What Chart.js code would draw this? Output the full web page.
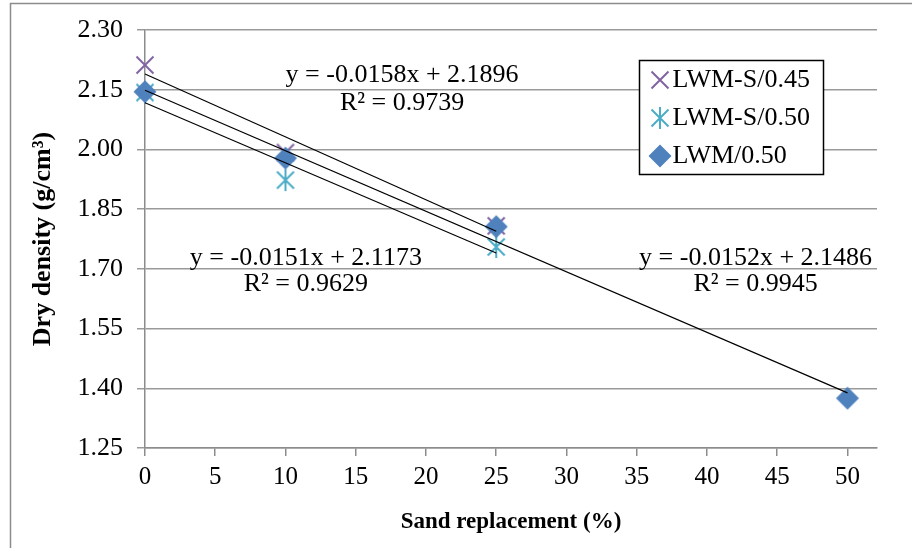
<!DOCTYPE html>
<html>
<head>
<meta charset="utf-8">
<script src="https://cdn.jsdelivr.net/npm/chart.js@4.4.1/dist/chart.umd.min.js"></script>
<style>
  html, body { margin: 0; padding: 0; background: #fff; }
  #wrap { width: 912px; height: 548px; position: relative; }
</style>
</head>
<body>
<div id="wrap"><canvas id="chart" width="912" height="548"></canvas></div>
<script>
// Sand replacement levels (%) for each mix
const sandLevelsS = [0, 10, 25];
const sandLevelsLWM = [0, 10, 25, 50];

// Dry density (g/cm3)
const densityLWMS045 = [2.212, 1.992, 1.808];
const densityLWMS050 = [2.143, 1.923, 1.755];
const densityLWM050 = [2.145, 1.978, 1.806, 1.375];

const seriesNames = ['LWM-S/0.45', 'LWM-S/0.50', 'LWM/0.50'];

// Linear trendlines: y = slope * x + intercept
const trendSlopes = [-0.0158, -0.0151, -0.0152];
const trendIntercepts = [2.1896, 2.1173, 2.1486];
const trendR2 = [0.9739, 0.9629, 0.9945];
const trendEndX = [25, 25, 50];

// Axis ticks
const xTicks = [0, 5, 10, 15, 20, 25, 30, 35, 40, 45, 50];
const yTicks = [1.25, 1.40, 1.55, 1.70, 1.85, 2.00, 2.15, 2.30];

const colors = ['#8064A2', '#4BACC6', '#4F81BD'];
const serif = '"Liberation Serif", "Times New Roman", serif';

function pts(xs, ys) { return xs.map((x, i) => ({ x: x, y: ys[i] })); }

function trendData(i) {
  return [0, trendEndX[i]].map(x => ({ x: x, y: trendSlopes[i] * x + trendIntercepts[i] }));
}

function fmtCoef(v) {
  return (v < 0 ? '-' : '') + Math.abs(v).toFixed(4);
}

// Marker glyphs drawn once onto small canvases
function markerCanvas(size, draw) {
  const c = document.createElement('canvas');
  c.width = size; c.height = size;
  const g = c.getContext('2d');
  draw(g, size / 2);
  return c;
}
const crossMarker = markerCanvas(22, (g, m) => {
  g.strokeStyle = colors[0]; g.lineWidth = 2;
  const r = 8.5;
  g.beginPath();
  g.moveTo(m - r, m - r); g.lineTo(m + r, m + r);
  g.moveTo(m + r, m - r); g.lineTo(m - r, m + r);
  g.stroke();
});
const starMarker = markerCanvas(24, (g, m) => {
  g.strokeStyle = colors[1]; g.lineWidth = 2;
  const r = 8.5;
  g.beginPath();
  g.moveTo(m - r, m - r); g.lineTo(m + r, m + r);
  g.moveTo(m + r, m - r); g.lineTo(m - r, m + r);
  g.moveTo(m, m - 11); g.lineTo(m, m + 11);
  g.stroke();
});
const diamondMarker = markerCanvas(26, (g, m) => {
  const r = 11.5;
  g.fillStyle = colors[2];
  g.beginPath();
  g.moveTo(m, m - r); g.lineTo(m + r, m); g.lineTo(m, m + r); g.lineTo(m - r, m);
  g.closePath();
  g.fill();
});
const markers = [crossMarker, starMarker, diamondMarker];

// Equation labels, anchored in data units
const eqAnchors = [
  { x: 18.3, y: 2.187, gap: 28 },
  { x: 11.45, y: 1.727, gap: 26 },
  { x: 43.46, y: 1.727, gap: 26 }
];

const datasets = [0, 1, 2].map(i => ({
  label: seriesNames[i],
  data: i === 0 ? pts(sandLevelsS, densityLWMS045)
      : i === 1 ? pts(sandLevelsS, densityLWMS050)
      : pts(sandLevelsLWM, densityLWM050),
  pointStyle: markers[i], pointRadius: 11,
  borderColor: colors[i], backgroundColor: colors[i],
  showLine: false, clip: false, order: 4 - i
}));
for (let i = 0; i < 3; i++) {
  datasets.push({
    label: 'trend' + i, data: trendData(i), showLine: true,
    borderColor: '#000', borderWidth: 1.2, pointRadius: 0, fill: false, clip: false, order: 1
  });
}

const framePlugin = {
  id: 'frame',
  beforeDraw(chart) {
    const ctx = chart.ctx;
    ctx.save();
    ctx.fillStyle = '#fff';
    ctx.fillRect(0, 0, chart.width, chart.height);
    ctx.strokeStyle = '#8c8c8c';
    ctx.lineWidth = 1.5;
    ctx.strokeRect(10.5, 3.5, chart.width + 10, chart.height + 10);
    ctx.restore();
  }
};

const labelsPlugin = {
  id: 'eqLabels',
  afterDatasetsDraw(chart) {
    const ctx = chart.ctx;
    const xs = chart.scales.x, ys = chart.scales.y;
    ctx.save();
    ctx.fillStyle = '#000';
    ctx.font = '26px ' + serif;
    ctx.textAlign = 'center';
    ctx.textBaseline = 'middle';
    eqAnchors.forEach((a, i) => {
      const px = xs.getPixelForValue(a.x);
      const py = ys.getPixelForValue(a.y);
      const b = trendIntercepts[i];
      ctx.fillText('y = ' + fmtCoef(trendSlopes[i]) + 'x ' + (b < 0 ? '- ' : '+ ') + Math.abs(b).toFixed(4), px, py);
      ctx.fillText('R\u00B2 = ' + trendR2[i].toFixed(4), px, py + a.gap);
    });
    ctx.restore();
  }
};

const legendPlugin = {
  id: 'boxLegend',
  afterDraw(chart) {
    const ctx = chart.ctx;
    const box = { x: 639.5, y: 60.5, w: 184, h: 114 };
    ctx.save();
    ctx.fillStyle = '#fff';
    ctx.fillRect(box.x, box.y, box.w, box.h);
    ctx.strokeStyle = '#000';
    ctx.lineWidth = 1.5;
    ctx.strokeRect(box.x, box.y, box.w, box.h);
    ctx.font = '26px ' + serif;
    ctx.textBaseline = 'middle';
    ctx.textAlign = 'left';
    ctx.fillStyle = '#000';
    for (let i = 0; i < 3; i++) {
      const ds = chart.data.datasets[i];
      const cy = box.y + 19 + i * 38;
      const img = ds.pointStyle;
      ctx.drawImage(img, Math.round(box.x + 20 - img.width / 2), Math.round(cy - img.height / 2));
      ctx.fillText(ds.label, box.x + 33, cy + 1);
    }
    ctx.restore();
  }
};

new Chart(document.getElementById('chart'), {
  type: 'scatter',
  data: { datasets: datasets },
  options: {
    responsive: false,
    animation: false,
    events: [],
    layout: { padding: { left: 10, top: 30, right: 35, bottom: 10 } },
    plugins: {
      legend: { display: false },
      tooltip: { enabled: false }
    },
    scales: {
      x: {
        type: 'linear',
        min: 0,
        max: 52.1,
        afterBuildTicks(scale) { scale.ticks = xTicks.map(v => ({ value: v })); },
        afterFit(scale) { scale.height = 90; },
        ticks: {
          color: '#000',
          font: { family: serif, size: 25 },
          padding: 6,
          maxRotation: 0,
          autoSkip: false,
          callback: v => String(v)
        },
        grid: { drawOnChartArea: false, drawTicks: true, tickLength: 8, color: '#8c8c8c', lineWidth: 1.5 },
        border: { display: true, color: '#8c8c8c', width: 1.5 },
        title: {
          display: true,
          text: 'Sand replacement (%)',
          color: '#000',
          font: { family: serif, size: 23, weight: 'bold' },
          padding: { top: 0, bottom: 2 }
        }
      },
      y: {
        type: 'linear',
        min: 1.25,
        max: 2.30,
        afterBuildTicks(scale) { scale.ticks = yTicks.map(v => ({ value: v })); },
        afterFit(scale) { scale.width = 135; },
        ticks: {
          color: '#000',
          font: { family: serif, size: 26 },
          padding: 14,
          autoSkip: false,
          callback: v => Number(v).toFixed(2)
        },
        grid: { color: '#9a9a9a', lineWidth: 1.5, tickLength: 8, drawTicks: true },
        border: { display: true, color: '#8c8c8c', width: 1.5 },
        title: {
          display: true,
          text: 'Dry density (g/cm\u00B3)',
          color: '#000',
          font: { family: serif, size: 26, weight: 'bold' },
          padding: { top: 18, bottom: 0 }
        }
      }
    }
  },
  plugins: [framePlugin, labelsPlugin, legendPlugin]
});
</script>
</body>
</html>
